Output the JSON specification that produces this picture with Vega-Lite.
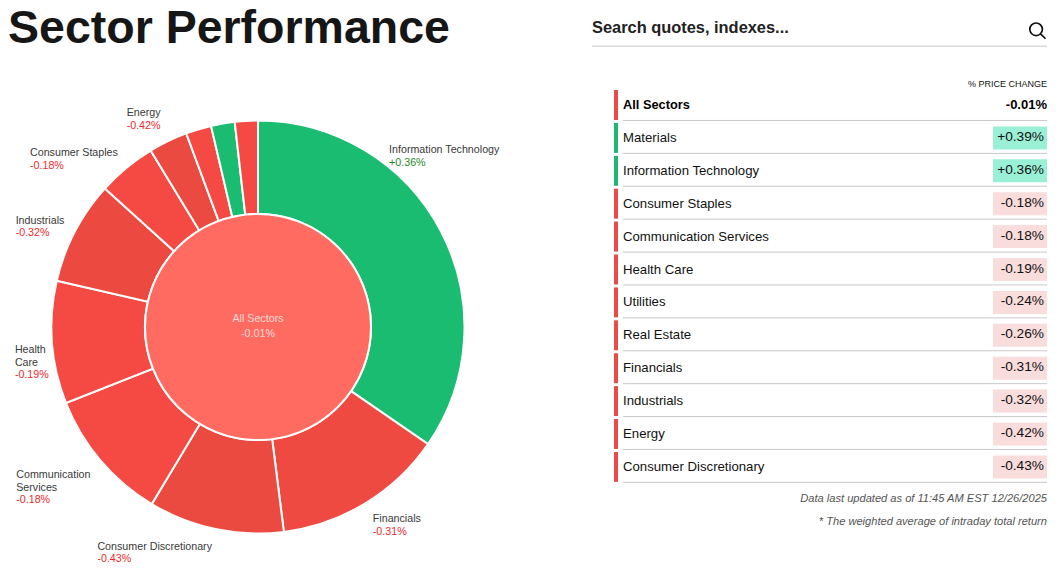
{
"$schema":"https://vega.github.io/schema/vega-lite/v6.json",
"padding":{"left":0,"top":6,"right":0,"bottom":0},
"background":"white",
"config":{"font":"Liberation Sans","view":{"stroke":null},"axis":{"disable":true},"legend":{"disable":true},"concat":{"spacing":75}},
"datasets":{
"pie":[
{"rank":1,"sector":"Information Technology","share":34.6,"change":0.36,"pct":"+0.36%","labelled":true},
{"rank":2,"sector":"Financials","share":13.4,"change":-0.31,"pct":"-0.31%","labelled":true},
{"rank":3,"sector":"Consumer Discretionary","share":10.6,"change":-0.43,"pct":"-0.43%","labelled":true},
{"rank":4,"sector":"Communication\nServices","share":10.4,"change":-0.18,"pct":"-0.18%","labelled":true},
{"rank":5,"sector":"Health\nCare","share":9.6,"change":-0.19,"pct":"-0.19%","labelled":true},
{"rank":6,"sector":"Industrials","share":8.1,"change":-0.32,"pct":"-0.32%","labelled":true},
{"rank":7,"sector":"Consumer Staples","share":4.6,"change":-0.18,"pct":"-0.18%","labelled":true},
{"rank":8,"sector":"Energy","share":3.05,"change":-0.42,"pct":"-0.42%","labelled":true},
{"rank":9,"sector":"Utilities","share":2.0,"change":-0.24,"pct":"-0.24%","labelled":false},
{"rank":10,"sector":"Materials","share":1.85,"change":0.39,"pct":"+0.39%","labelled":false},
{"rank":11,"sector":"Real Estate","share":1.8,"change":-0.26,"pct":"-0.26%","labelled":false}
],
"table":[
{"sector":"All Sectors","change":-0.01,"pct":"-0.01%"},
{"sector":"Materials","change":0.39,"pct":"+0.39%"},
{"sector":"Information Technology","change":0.36,"pct":"+0.36%"},
{"sector":"Consumer Staples","change":-0.18,"pct":"-0.18%"},
{"sector":"Communication Services","change":-0.18,"pct":"-0.18%"},
{"sector":"Health Care","change":-0.19,"pct":"-0.19%"},
{"sector":"Utilities","change":-0.24,"pct":"-0.24%"},
{"sector":"Real Estate","change":-0.26,"pct":"-0.26%"},
{"sector":"Financials","change":-0.31,"pct":"-0.31%"},
{"sector":"Industrials","change":-0.32,"pct":"-0.32%"},
{"sector":"Energy","change":-0.42,"pct":"-0.42%"},
{"sector":"Consumer Discretionary","change":-0.43,"pct":"-0.43%"}
]
},
"hconcat":[
{
"title":{"text":"Sector Performance","anchor":"start","frame":"group","dx":8,"fontSize":46.5,"fontWeight":"bold","color":"#161616","offset":20.5},
"width":516,"height":508,
"data":{"name":"pie"},
"layer":[
{"mark":{"type":"arc","outerRadius":206.5,"innerRadius":113,"stroke":"white","strokeWidth":2},
"encoding":{
"theta":{"field":"share","type":"quantitative","stack":true,"scale":{"domain":[0,100]}},
"order":{"field":"rank","type":"quantitative"},
"color":{"field":"change","type":"nominal","legend":null,"scale":{
"domain":[0.36,0.39,-0.18,-0.19,-0.24,-0.26,-0.31,-0.32,-0.42,-0.43],
"range":["#1ABC72","#1ABC72","#F44A43","#F44A43","#F44A43","#F44A43","#EF4A42","#EC4A40","#EB4A40","#EB4A40"]}}
}},
{"data":{"values":[{"sector":"All Sectors","share":100,"pct":"-0.01%"}]},
"mark":{"type":"arc","outerRadius":113,"innerRadius":0,"stroke":"white","strokeWidth":2,"color":"#FF6A61"},
"encoding":{"theta":{"field":"share","type":"quantitative","stack":true}}},
{"data":{"values":[{"sector":"All Sectors","share":100,"pct":"-0.01%"}]},
"mark":{"type":"text","fontSize":10.7,"color":"#FFDAD6","dy":-8,"baseline":"middle"},
"encoding":{"text":{"field":"sector"}}},
{"data":{"values":[{"sector":"All Sectors","share":100,"pct":"-0.01%"}]},
"mark":{"type":"text","fontSize":10.7,"color":"#FFDAD6","dy":7,"baseline":"middle"},
"encoding":{"text":{"field":"pct"}}},
{"mark":{"type":"text","fontSize":10.7,"color":"#3A3A3A","align":"left","baseline":"alphabetic","lineBreak":"\n","lineHeight":12.5,
"dx":{"expr":"({'Information Technology':-51.3,'Financials':7.7,'Consumer Discretionary':-118.2,'Communication\\nServices':-84.7,'Health\\nCare':-37.7,'Industrials':-59.7,'Consumer Staples':-96.7,'Energy':-41.6})[datum.sector]"},
"dy":{"expr":"({'Information Technology':-78,'Financials':19,'Consumer Discretionary':21.3,'Communication\\nServices':17.9,'Health\\nCare':10.9,'Industrials':-8,'Consumer Staples':-12.6,'Energy':-25.4})[datum.sector]"}},
"encoding":{
"theta":{"field":"share","type":"quantitative","stack":true},
"order":{"field":"rank","type":"quantitative"},
"radius":{"value":206},
"text":{"condition":{"test":"datum.labelled","field":"sector"},"value":""}
}},
{"mark":{"type":"text","fontSize":10.7,"align":"left","baseline":"alphabetic",
"dx":{"expr":"({'Information Technology':-51.3,'Financials':7.7,'Consumer Discretionary':-118.2,'Communication\\nServices':-84.7,'Health\\nCare':-37.7,'Industrials':-59.7,'Consumer Staples':-96.7,'Energy':-41.6})[datum.sector]"},
"dy":{"expr":"({'Information Technology':-65,'Financials':32,'Consumer Discretionary':33.3,'Communication\\nServices':42.9,'Health\\nCare':35.9,'Industrials':4,'Consumer Staples':0.4,'Energy':-12.4})[datum.sector]"}},
"encoding":{
"theta":{"field":"share","type":"quantitative","stack":true},
"order":{"field":"rank","type":"quantitative"},
"radius":{"value":206},
"text":{"condition":{"test":"datum.labelled","field":"pct"},"value":""},
"color":{"condition":{"test":"datum.change>0","value":"#1F8A1F"},"value":"#EE2A2A"}
}}
]
},
{
"width":455,"height":508,
"data":{"name":"table"},
"layer":[
{"transform":[{"filter":"datum.sector!=='All Sectors'"}],
"mark":{"type":"bar","height":{"band":0.7}},
"encoding":{
"x":{"datum":401,"type":"quantitative","scale":{"domain":[0,455],"nice":false,"zero":false}},
"x2":{"datum":455},
"y":{"field":"sector","type":"nominal","sort":null,"scale":{"type":"band","paddingInner":0,"paddingOuter":0,"range":[-50.25,476.15],
"domain":["search","header","All Sectors","Materials","Information Technology","Consumer Staples","Communication Services","Health Care","Utilities","Real Estate","Financials","Industrials","Energy","Consumer Discretionary","note1","note2"]}},
"color":{"condition":{"test":"datum.change>0","value":"#99F0D5"},"value":"#F9DCDC"}
}},
{"mark":{"type":"bar","height":{"band":0.91}},
"encoding":{
"x":{"datum":22,"type":"quantitative"},"x2":{"datum":26},
"y":{"field":"sector","type":"nominal"},
"color":{"condition":{"test":"datum.change>0","value":"#1DB673"},"value":"#EA4B45"}
}},
{"mark":{"type":"rule","color":"#C8C8C8","strokeWidth":1},
"encoding":{
"x":{"datum":31,"type":"quantitative"},"x2":{"datum":455},
"y":{"field":"sector","type":"nominal","bandPosition":0.97}
}},
{"transform":[{"filter":"datum.sector!=='All Sectors'"}],
"mark":{"type":"text","align":"left","baseline":"middle","fontSize":13.2,"color":"#111"},
"encoding":{"x":{"datum":31,"type":"quantitative"},"y":{"field":"sector","type":"nominal"},"text":{"field":"sector"}}},
{"transform":[{"filter":"datum.sector==='All Sectors'"}],
"mark":{"type":"text","align":"left","baseline":"middle","fontSize":12.8,"fontWeight":"bold","color":"#000"},
"encoding":{"x":{"datum":31,"type":"quantitative"},"y":{"field":"sector","type":"nominal"},"text":{"field":"sector"}}},
{"transform":[{"filter":"datum.sector!=='All Sectors'"}],
"mark":{"type":"text","align":"right","baseline":"middle","fontSize":13.7,"color":"#111","dx":-3,"dy":-1},
"encoding":{"x":{"datum":455,"type":"quantitative"},"y":{"field":"sector","type":"nominal"},"text":{"field":"pct"}}},
{"transform":[{"filter":"datum.sector==='All Sectors'"}],
"mark":{"type":"text","align":"right","baseline":"middle","fontSize":13,"fontWeight":"bold","color":"#000"},
"encoding":{"x":{"datum":455,"type":"quantitative"},"y":{"field":"sector","type":"nominal"},"text":{"field":"pct"}}},
{"data":{"values":[{"text":"Search quotes, indexes..."}]},
"mark":{"type":"text","align":"left","baseline":"middle","fontSize":16.4,"fontWeight":"bold","color":"#222","dy":-11},
"encoding":{"x":{"datum":0,"type":"quantitative"},"y":{"datum":"search","type":"nominal"},"text":{"field":"text"}}},
{"data":{"values":[{"text":"search"}]},
"mark":{"type":"rule","color":"#C8C8C8","strokeWidth":1},
"encoding":{"x":{"datum":0,"type":"quantitative"},"x2":{"datum":455},"y":{"datum":"search","type":"nominal","bandPosition":0.712}}},
{"data":{"values":[{"text":"search"}]},
"mark":{"type":"point","filled":false,"shape":"M0.6,-0.1A0.7,0.7,0,1,1,-0.8,-0.1A0.7,0.7,0,1,1,0.6,-0.1ZM0.4,0.4L0.95,0.95","size":324,"stroke":"#111","strokeWidth":1.7,"opacity":1},
"encoding":{"x":{"datum":445,"type":"quantitative"},"y":{"datum":"search","type":"nominal","bandPosition":0.227}}},
{"data":{"values":[{"text":"% PRICE CHANGE"}]},
"mark":{"type":"text","align":"right","baseline":"middle","fontSize":9,"color":"#111","dy":12},
"encoding":{"x":{"datum":455,"type":"quantitative"},"y":{"datum":"header","type":"nominal"},"text":{"field":"text"}}},
{"data":{"values":[{"text":"Data last updated as of 11:45 AM EST 12/26/2025"}]},
"mark":{"type":"text","align":"right","baseline":"middle","fontSize":11.1,"fontStyle":"italic","color":"#555","dy":-1},
"encoding":{"x":{"datum":455,"type":"quantitative"},"y":{"datum":"note1","type":"nominal"},"text":{"field":"text"}}},
{"data":{"values":[{"text":"* The weighted average of intraday total return"}]},
"mark":{"type":"text","align":"right","baseline":"middle","fontSize":11.1,"fontStyle":"italic","color":"#555","dy":-11},
"encoding":{"x":{"datum":455,"type":"quantitative"},"y":{"datum":"note2","type":"nominal"},"text":{"field":"text"}}}
]
}
]
}
